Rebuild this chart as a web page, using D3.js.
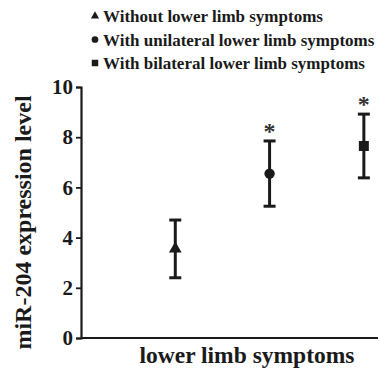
<!DOCTYPE html>
<html>
<head>
<meta charset="utf-8">
<script src="https://cdn.jsdelivr.net/npm/d3@7"></script>
<style>
  body { margin: 0; background: #fff; }
  svg { display: block; }
</style>
</head>
<body>
<div id="chart"></div>
<script>
// Group data
const groups = ["Without lower limb symptoms", "With unilateral lower limb symptoms", "With bilateral lower limb symptoms"];
const symbols = ["triangle", "circle", "square"];
const means = [3.55, 6.55, 7.65];
const errors = [1.15, 1.3, 1.27];
const significant = [false, true, true];
const yTicks = [0, 2, 4, 6, 8, 10];

const width = 380;
const height = 372;
const font = "Liberation Serif, Times New Roman, serif";

const svg = d3.select("#chart").append("svg")
    .attr("width", width)
    .attr("height", height);

const x = d3.scaleLinear().domain([0, 3.15]).range([81, 378]);
const y = d3.scaleLinear().domain([0, 10]).range([338, 87]);

const symbolType = {
    triangle: d3.symbolTriangle,
    circle: d3.symbolCircle,
    square: d3.symbolSquare
};
const symbolSize = { triangle: 70, circle: 85, square: 100 };

// Legend
const legend = svg.append("g");
groups.forEach((name, i) => {
    const ly = 16 + i * 23.5;
    legend.append("path")
        .attr("d", d3.symbol().type(symbolType[symbols[i]]).size(symbolSize[symbols[i]] * 0.42)())
        .attr("transform", `translate(95,${ly})`)
        .attr("fill", "#1a1a1a");
    legend.append("text")
        .attr("x", 103)
        .attr("y", ly + 6)
        .attr("font-family", font)
        .attr("font-weight", "bold")
        .attr("font-size", "17px")
        .attr("fill", "#1a1a1a")
        .text(name);
});

// Y axis
const yAxis = svg.append("g")
    .attr("transform", `translate(${x(0)},0)`)
    .call(d3.axisLeft(y).tickValues(yTicks).tickSize(5).tickPadding(3));
yAxis.select(".domain").attr("stroke", "#1a1a1a").attr("stroke-width", 2.2);
yAxis.selectAll(".tick line").attr("stroke", "#1a1a1a").attr("stroke-width", 1.8);
yAxis.selectAll(".tick text")
    .attr("font-family", font)
    .attr("font-weight", "bold")
    .attr("font-size", "21px")
    .attr("fill", "#1a1a1a");

// X axis line
svg.append("line")
    .attr("x1", x(0)).attr("x2", x(3.15))
    .attr("y1", y(0)).attr("y2", y(0))
    .attr("stroke", "#1a1a1a")
    .attr("stroke-width", 2.2);

// Axis titles
svg.append("text")
    .attr("transform", `translate(31,${(y(0) + y(10)) / 2 + 10}) rotate(-90)`)
    .attr("text-anchor", "middle")
    .attr("font-family", font)
    .attr("font-weight", "bold")
    .attr("font-size", "24px")
    .attr("fill", "#1a1a1a")
    .text("miR-204 expression level");

svg.append("text")
    .attr("x", 247)
    .attr("y", 363)
    .attr("text-anchor", "middle")
    .attr("font-family", font)
    .attr("font-weight", "bold")
    .attr("font-size", "23.5px")
    .attr("fill", "#1a1a1a")
    .text("lower limb symptoms");

// Error bars and points
const capW = 6;
groups.forEach((g, i) => {
    const cx = x(i + 1);
    const top = y(means[i] + errors[i]);
    const bot = y(means[i] - errors[i]);
    const grp = svg.append("g").attr("stroke", "#1a1a1a").attr("stroke-width", 3);
    grp.append("line").attr("x1", cx).attr("x2", cx).attr("y1", top).attr("y2", bot);
    grp.append("line").attr("x1", cx - capW).attr("x2", cx + capW).attr("y1", top).attr("y2", top);
    grp.append("line").attr("x1", cx - capW).attr("x2", cx + capW).attr("y1", bot).attr("y2", bot);

    svg.append("path")
        .attr("d", d3.symbol().type(symbolType[symbols[i]]).size(symbolSize[symbols[i]])())
        .attr("transform", `translate(${cx},${y(means[i])})`)
        .attr("fill", "#1a1a1a");

    if (significant[i]) {
        svg.append("text")
            .attr("x", cx)
            .attr("y", top - 2)
            .attr("text-anchor", "middle")
            .attr("font-family", font)
            .attr("font-weight", "bold")
            .attr("font-size", "24px")
            .attr("fill", "#333")
            .text("*");
    }
});
</script>
</body>
</html>
